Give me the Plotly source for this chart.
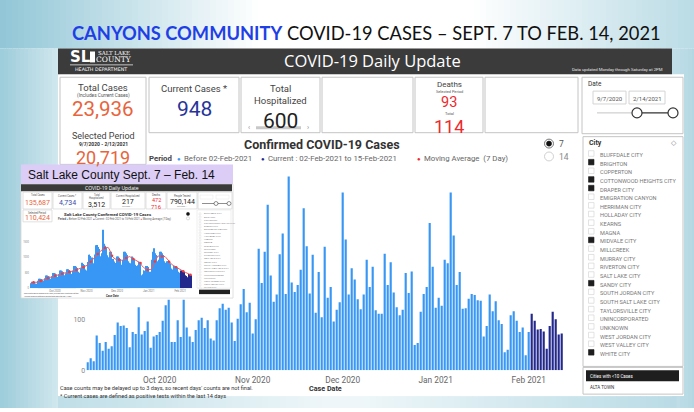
import plotly.graph_objects as go
import pandas as pd

# ---------------- data ----------------
first_case_date = "2020-09-07"
current_period_start = "2021-02-02"

canyons_daily_cases = [
    16, 24, 18, 69, 54, 39, 56, 43, 48, 70, 95, 88, 89, 84, 46, 76, 72, 125, 71, 78,
    97, 45, 67, 70, 76, 98, 129, 140, 56, 56, 99, 66, 140, 85, 67, 56, 80, 99, 104, 84,
    99, 63, 59, 99, 123, 132, 120, 124, 95, 58, 102,
    131, 161, 115, 134, 73, 101, 241, 173, 235, 328, 188, 136, 150, 230, 271, 151, 384,
    174, 155, 169, 199, 321, 246, 152, 229, 114, 195, 105, 245, 144, 165, 97, 120, 135, 352,
    259, 150, 202, 180, 141, 121, 150, 219, 165, 205, 119, 112, 112, 231, 169, 214, 154,
    125, 109, 120, 193, 153, 196, 50, 54, 116, 151, 165, 292, 205, 124, 144, 128, 219, 212,
    352, 267, 169,
    195, 122, 123, 142, 151, 149, 139, 138, 67, 88, 150, 117, 137, 99, 92, 36, 41, 109,
    117, 98, 76, 85, 30, 76,
    112, 98, 81, 82, 77, 43, 88, 116, 101, 71, 73,
]

slco_daily_cases = [
    160, 210, 205, 200, 190, 150, 145,
    240, 310, 310, 300, 285, 230, 215,
    320, 415, 415, 400, 380, 305, 290,
    385, 495, 495, 475, 450, 365, 345,
    450, 575, 575, 550, 525, 425, 400,
    485, 620, 620, 595, 565, 460, 430,
    565, 725, 725, 695, 660, 535, 505,
    650, 830, 830, 790, 755, 610, 575,
    855, 1090, 1095, 1045, 1000, 810, 760,
    1100, 1400, 1405, 1340, 1280, 1040, 975,
    1135, 1900, 1450, 1385, 1325, 1070, 1010,
    925, 1185, 1185, 700, 950, 870, 820,
    810, 1035, 1035, 990, 945, 765, 720,
    925, 1185, 1185, 1135, 1080, 875, 825,
    810, 1035, 1035, 990, 945, 765, 720,
    750, 860, 860, 820, 420, 450, 580,
    565, 725, 725, 690, 500, 535, 505,
    925, 1185, 1300, 1135, 1080, 875, 825,
    925, 1185, 1185, 1135, 1080, 875, 825,
    685, 875, 875, 835, 800, 645, 610,
    565, 725, 725, 695, 660, 535, 505,
    450, 575, 575, 550, 525, 425, 400,
    360, 460, 460, 440, 420,
]

month_tick_dates = ["2020-10-01", "2020-11-01", "2020-12-01", "2021-01-01", "2021-02-01"]
month_tick_labels = ["Oct 2020", "Nov 2020", "Dec 2020", "Jan 2021", "Feb 2021"]
canyons_y_ticks = [0, 100]
slco_y_ticks = [0, 500, 1000, 1500]

city_names = [
    "BLUFFDALE CITY", "BRIGHTON", "COPPERTON", "COTTONWOOD HEIGHTS CITY", "DRAPER CITY",
    "EMIGRATION CANYON", "HERRIMAN CITY", "HOLLADAY CITY", "KEARNS", "MAGNA", "MIDVALE CITY",
    "MILLCREEK", "MURRAY CITY", "RIVERTON CITY", "SALT LAKE CITY", "SANDY CITY",
    "SOUTH JORDAN CITY", "SOUTH SALT LAKE CITY", "TAYLORSVILLE CITY", "UNINCORPORATED",
    "UNKNOWN", "WEST JORDAN CITY", "WEST VALLEY CITY", "WHITE CITY",
]
cities_selected = ["BRIGHTON", "COTTONWOOD HEIGHTS CITY", "DRAPER CITY", "MIDVALE CITY",
                   "SANDY CITY", "WHITE CITY"]

kpi_total_cases = "23,936"
kpi_period_cases = "20,719"
kpi_current_cases = "948"
kpi_hospitalized = "600"
kpi_deaths_period = "93"
kpi_deaths_total = "114"
period_label = "9/7/2020 - 2/12/2021"
date_from_label = "9/7/2020"
date_to_label = "2/14/2021"

slco_total_cases = "135,687"
slco_current_cases = "4,734"
slco_hospitalized = "3,512"
slco_current_hosp = "217"
slco_deaths_period = "472"
slco_deaths_total = "716"
slco_people_tested = "790,144"
slco_period_cases = "110,424"

# ---------------- helpers ----------------
W, H = 694, 412
FONT = "Roboto"
LIGHT_BLUE = "#3896f5"
NAVY = "#23288c"
ORANGE = "#e8643c"
RED = "#f0282d"


def X(px):
    return px / W


def Y(py):
    return 1 - py / H


shapes = []
ann = []


def rect(x0, y0, x1, y1, fill="rgba(0,0,0,0)", line="rgba(0,0,0,0)", lw=0, layer="below"):
    shapes.append(dict(type="rect", xref="paper", yref="paper", x0=X(x0), x1=X(x1),
                       y0=Y(y1), y1=Y(y0), fillcolor=fill,
                       line=dict(color=line, width=lw), layer=layer))


def seg(x0, y0, x1, y1, color, lw=1, layer="below"):
    shapes.append(dict(type="line", xref="paper", yref="paper", x0=X(x0), x1=X(x1),
                       y0=Y(y0), y1=Y(y1), line=dict(color=color, width=lw), layer=layer))


def circ(cx, cy, r, fill, line, lw=1, layer="below"):
    shapes.append(dict(type="circle", xref="paper", yref="paper", x0=X(cx - r), x1=X(cx + r),
                       y0=Y(cy + r), y1=Y(cy - r), fillcolor=fill,
                       line=dict(color=line, width=lw), layer=layer))


def txt(x, y, s, size=8, color="#333", family=FONT, xa="center", ya="middle", weight=None):
    f = dict(size=size, color=color, family=family)
    if weight:
        f["weight"] = weight
    ann.append(dict(x=X(x), y=Y(y), xref="paper", yref="paper", text=s, showarrow=False,
                    xanchor=xa, yanchor=ya, font=f, borderpad=0))


def mix(t):
    base = (118, 184, 204)
    r, g, b = [round(255 - t * (255 - c)) for c in base]
    return f"rgb({r},{g},{b})"


# ---------------- slide background ----------------
step = 6
for xs in range(0, W, step):
    c = xs + step / 2
    t = 0.8 * max(0.0, 1 - c / 260) + 0.5 * max(0.0, (c - 470) / 224)
    rect(xs, 0, xs + step + 0.6, 49, fill=mix(t))
for xs in range(0, 58, 4):
    c = xs + 2
    t = 0.72 - 0.38 * c / 58
    rect(xs, 49, xs + 4.6, H, fill=mix(t))
for xs in range(672, W, 4):
    c = xs + 2
    t = 0.45 + 0.1 * (c - 672) / 22
    rect(xs, 49, xs + 4.6, H, fill=mix(t))
for xs in range(58, 672, step):
    c = xs + step / 2
    t = 0.42 * max(0.0, 1 - c / 330) + 0.38 * max(0.0, (c - 360) / 312) + 0.12
    rect(xs, 400, xs + step + 0.6, H, fill=mix(t))

# slide title
txt(366.5, 33.5, "<b><span style='color:#1f3fe6'>CANYONS COMMUNITY</span></b> COVID-19 CASES \u2013 SEPT. 7 TO FEB. 14, 2021",
    size=18.3, color="#111", family="Lato")

# ---------------- dashboard frame ----------------
rect(58, 75, 684, 400, fill="white")
rect(58, 49, 672, 75, fill="#3b3b3b")
txt(80, 57.5, "<b>SL</b>", size=15, color="white", family="DejaVu Sans")
rect(90, 52, 95, 63, fill="white")
txt(114, 53.5, "SALT LAKE", size=5.5, color="white", family="DejaVu Serif")
txt(114, 60, "COUNTY", size=7.5, color="white", family="DejaVu Serif")
seg(70, 65.5, 133, 65.5, "white", 0.7)
txt(101, 70, "HEALTH DEPARTMENT", size=4.8, color="white", family="DejaVu Sans")
txt(372, 61, "COVID-19 Daily Update", size=16.5, color="white", family="Open Sans")
txt(617, 70, "Data updated Monday through Saturday at 2PM", size=4.3, color="#e6e6e6")

# KPI cards
CARD = "#c4c4c4"
rect(60, 78, 146, 166, fill="white", line=CARD, lw=1)
rect(149, 78, 239, 134, fill="white", line=CARD, lw=1)
rect(241, 78, 320, 134, fill="white", line=CARD, lw=1)
rect(322, 78, 413, 134, fill="white", line=CARD, lw=1)
rect(415, 78, 483, 134, fill="white", line=CARD, lw=1)
rect(485, 78, 578, 134, fill="white", line=CARD, lw=1)

txt(103, 88.5, "Total Cases", size=9.5, color="#444")
txt(103, 96, "(Includes Current Cases)", size=4.8, color="#555")
txt(103, 110.5, kpi_total_cases, size=20.5, color=ORANGE)
txt(103, 137, "Selected Period", size=9, color="#444")
txt(103, 145, "<b>" + period_label + "</b>", size=5, color="#333")
txt(103, 159, kpi_period_cases, size=18, color=ORANGE)

txt(194, 89.5, "Current Cases *", size=9.5, color="#444")
txt(194, 110.5, kpi_current_cases, size=21, color="#26349a")

txt(280, 89.5, "Total", size=9.5, color="#444")
txt(280, 101, "Hospitalized", size=9.5, color="#444")
txt(280, 122, kpi_hospitalized, size=21, color="#222")
rect(256, 127.5, 301, 130.5, fill="#c8c8c8")
txt(249, 129, "\u2039", size=7, color="#888")
txt(308, 129, "\u203a", size=7, color="#888")

txt(449, 85.8, "Deaths", size=8, color="#444")
txt(449, 92.8, "Selected Period", size=3.9, color="#555")
txt(449, 104, kpi_deaths_period, size=14.5, color=RED)
txt(449, 114.5, "Total", size=4, color="#555")
txt(449, 127.5, kpi_deaths_total, size=18, color=RED)

# date slicer
rect(582, 78, 683, 135, fill="white", line=CARD, lw=1)
txt(587, 85, "Date", size=6.5, color="#333", xa="left")
rect(593, 92, 626, 105, fill="white", line="#d4d4d4", lw=1)
rect(629, 92, 665, 105, fill="white", line="#d4d4d4", lw=1)
txt(609.5, 99, date_from_label, size=6, color="#555")
txt(647, 99, date_to_label, size=6, color="#555")
seg(597, 114, 637, 114, "#c4c4c4", 1)
seg(637, 114, 673, 114, "#333", 1.4)
circ(637, 114, 5, "white", "#333", 1.2)
circ(673, 114, 5, "white", "#333", 1.2)

# city slicer
rect(583, 138, 683, 370, fill="white", line=CARD, lw=1)
txt(588, 144.5, "<b>City</b>", size=7, color="#333", xa="left")
txt(674, 144.5, "\u25c7", size=7, color="#888")
for k, name in enumerate(city_names):
    cy = 155 + 8.73 * k
    if name in cities_selected:
        rect(588.5, cy - 2.8, 594, cy + 2.8, fill="#1e1e1e", line="#1e1e1e", lw=0.6)
    else:
        rect(588.5, cy - 2.8, 594, cy + 2.8, fill="white", line="#d0d0d0", lw=0.6)
    txt(598.5, cy + 1.5, name, size=5.6, color="#777", xa="left")
rect(583, 371, 683, 398, fill="white", line=CARD, lw=1)
rect(586, 374, 679, 385, fill="#1e1e1e")
txt(589, 380.5, "Cities with &lt;10 Cases", size=4.5, color="white", xa="left")
txt(589, 391.5, "ALTA TOWN", size=4.5, color="#333", xa="left")

# radio buttons
circ(549, 145, 4.5, "white", "#555", 0.8)
circ(549, 145, 2.6, "#111", "#111", 0.5)
txt(558, 145.5, "7", size=8.5, color="#555", xa="left")
circ(549, 158, 4.5, "white", "#c4c4c4", 0.8)
txt(558, 158.5, "14", size=8.5, color="#888", xa="left")

# chart title & legend
txt(322, 145.5, "Confirmed COVID-19 Cases", size=12.5, color="#333", weight="bold")
txt(148, 160, "<b>Period</b>", size=7.8, color="#444", xa="left")
txt(176, 160, "\u25cf", size=6, color=LIGHT_BLUE, xa="left")
txt(182.5, 160, "Before 02-Feb-2021", size=7.8, color="#666", xa="left")
txt(260, 160, "\u25cf", size=6, color=NAVY, xa="left")
txt(266.5, 160, "Current : 02-Feb-2021 to 15-Feb-2021", size=7.8, color="#666", xa="left")
txt(416, 160, "\u25cf", size=6, color=RED, xa="left")
txt(422.5, 160, "Moving Average  (7 Day)", size=7.8, color="#666", xa="left")

txt(325, 392.5, "<b>Case Date</b>", size=7.2, color="#333")
txt(58.5, 391.5, "Case counts may be delayed up to 3 days, so recent days' counts are not final.",
    size=5.6, color="#333", xa="left")
txt(58.5, 400, "* Current cases are defined as positive tests within the last 14 days",
    size=5.6, color="#333", xa="left")

# ---------------- inset (Salt Lake County) ----------------
rect(21, 166, 233, 186, fill="#dccdf6")
txt(121, 176.5, "Salt Lake County Sept. 7 \u2013 Feb. 14", size=12, color="#111", family="Liberation Sans")
rect(21, 186, 233, 301, fill="white", line="#d8d8d8", lw=0.8)
rect(21, 186, 232, 193, fill="#3a3a3a")
txt(112, 189.8, "COVID-19 Daily Update", size=5, color="white", family="Open Sans")
mini = [(23, 52), (53, 82), (83, 110), (111, 145), (146, 166), (167, 197), (198, 232)]
for a, b in mini:
    rect(a, 194, b, 211, fill="white", line="#cfcfcf", lw=0.6)
rect(23, 212, 52, 224, fill="white", line="#cfcfcf", lw=0.6)
txt(37.5, 197, "Total Cases", size=2.6, color="#555")
txt(37.5, 205, slco_total_cases, size=7, color=ORANGE)
txt(67.5, 198, "Current Cases *", size=2.6, color="#555")
txt(67.5, 205, slco_current_cases, size=7, color="#3a4aa8")
txt(96.5, 197, "Total", size=2.6, color="#555")
txt(96.5, 200, "Hospitalized", size=2.6, color="#555")
txt(96.5, 207, slco_hospitalized, size=7, color="#222")
txt(128, 197.5, "Current Hospitalized", size=2.6, color="#555")
txt(128, 204, slco_current_hosp, size=7, color="#222")
txt(128, 208.5, "Includes ...", size=2.2, color="#777")
txt(156, 196.5, "Deaths", size=2.6, color="#555")
txt(156, 202, slco_deaths_period, size=5.5, color=RED)
txt(156, 208.5, slco_deaths_total, size=6, color=RED)
txt(182, 197.5, "People Tested", size=2.6, color="#555")
txt(182, 204, slco_people_tested, size=7, color="#222")
txt(182, 208.5, "Includes ...", size=2.2, color="#777")
rect(200, 197, 213, 201, fill="white", line="#ddd", lw=0.4)
rect(216, 197, 229, 201, fill="white", line="#ddd", lw=0.4)
seg(202, 205.5, 229, 205.5, "#444", 0.6)
circ(216, 205.5, 2, "white", "#444", 0.6)
circ(229, 205.5, 2, "white", "#444", 0.6)
txt(37.5, 215, "Selected Period", size=2.6, color="#555")
txt(37.5, 220.5, slco_period_cases, size=7, color=ORANGE)
txt(108, 216.5, "<b>Salt Lake County Confirmed COVID-19 Cases</b>", size=4.3, color="#333")
txt(57, 221.5,
    "<b>Period</b> <span style='color:#3896f5'>\u25cf</span> Before 02-Feb-2021 "
    "<span style='color:#23288c'>\u25cf</span> Current : 02-Feb-2021 to 15-Feb-2021 "
    "<span style='color:#f0282d'>\u25cf</span> Moving Average (7 Day)",
    size=2.7, color="#555", xa="left")
circ(188, 216, 1.6, "#111", "#333", 0.5)
circ(188, 220.5, 1.6, "white", "#bbb", 0.5)
rect(197, 212, 231, 291, fill="white", line="#dcdcdc", lw=0.5)
for k, name in enumerate(city_names):
    cy = 216 + 3.25 * k
    rect(199, cy - 1, 201, cy + 1, fill="white", line="#ccc", lw=0.3)
    txt(202.5, cy, name, size=2.3, color="#888", xa="left")
rect(199, 292.5, 230, 297, fill="#222")
txt(112, 298.5, "<b>Case Date</b>", size=2.8, color="#333")
txt(23, 296.5, "Case counts may be delayed up to 3 days, so recent days' counts are not final.",
    size=1.6, color="#444", xa="left")
txt(23, 299, "* Current cases are defined as positive tests within the last 14 days",
    size=1.6, color="#444", xa="left")

# ---------------- traces ----------------
dates = pd.date_range(first_case_date, periods=len(canyons_daily_cases), freq="D")
cut = pd.Timestamp(current_period_start)
x_before = [d for d in dates if d < cut]
x_current = [d for d in dates if d >= cut]
y_before = [v for d, v in zip(dates, canyons_daily_cases) if d < cut]
y_current = [v for d, v in zip(dates, canyons_daily_cases) if d >= cut]

slco_dates = pd.date_range(first_case_date, periods=len(slco_daily_cases), freq="D")
s_before = [v for d, v in zip(slco_dates, slco_daily_cases) if d < cut]
s_current = [v for d, v in zip(slco_dates, slco_daily_cases) if d >= cut]
slco_ma = pd.Series(slco_daily_cases).rolling(7, min_periods=1).mean()

fig = go.Figure()
fig.add_trace(go.Bar(x=x_before, y=y_before, marker=dict(color=LIGHT_BLUE, line=dict(width=0)),
                     xaxis="x", yaxis="y", hoverinfo="skip"))
fig.add_trace(go.Bar(x=x_current, y=y_current, marker=dict(color=NAVY, line=dict(width=0)),
                     xaxis="x", yaxis="y", hoverinfo="skip"))
fig.add_trace(go.Bar(x=[d for d in slco_dates if d < cut], y=s_before,
                     marker=dict(color=LIGHT_BLUE, line=dict(width=0)),
                     xaxis="x2", yaxis="y2", hoverinfo="skip"))
fig.add_trace(go.Bar(x=[d for d in slco_dates if d >= cut], y=s_current,
                     marker=dict(color=NAVY, line=dict(width=0)),
                     xaxis="x2", yaxis="y2", hoverinfo="skip"))
fig.add_trace(go.Scatter(x=list(slco_dates), y=list(slco_ma), mode="lines",
                         line=dict(color="#f05a5a", width=1), xaxis="x2", yaxis="y2",
                         hoverinfo="skip"))
fig.add_trace(go.Scatter(x=list(slco_dates[3::7]), y=list(slco_ma[3::7]), mode="markers",
                         marker=dict(color="#f03c3c", size=2.5), xaxis="x2", yaxis="y2",
                         hoverinfo="skip"))

x_range = [dates[0] - pd.Timedelta(hours=12), dates[-1] + pd.Timedelta(hours=12)]

fig.update_layout(
    width=W, height=H, autosize=False,
    margin=dict(l=0, r=0, t=0, b=0),
    paper_bgcolor="white", plot_bgcolor="rgba(0,0,0,0)",
    showlegend=False, barmode="overlay", bargap=0.28,
    xaxis=dict(domain=[X(86.2), X(563.2)], range=x_range, type="date", anchor="y",
               tickvals=month_tick_dates, ticktext=month_tick_labels,
               tickfont=dict(size=8.3, color="#666", family=FONT), ticklabelstandoff=3,
               showgrid=False, zeroline=False, showline=False, ticks=""),
    yaxis=dict(domain=[Y(374), Y(170)], range=[0, 400], anchor="x",
               tickvals=canyons_y_ticks, tickfont=dict(size=7, color="#888", family=FONT),
               showgrid=False, zeroline=False, showline=False, ticks=""),
    xaxis2=dict(domain=[X(30), X(192)], range=x_range, type="date", anchor="y2",
                tickvals=month_tick_dates, ticktext=month_tick_labels,
                tickfont=dict(size=2.8, color="#777", family=FONT),
                showgrid=False, zeroline=False, showline=False, ticks=""),
    yaxis2=dict(domain=[Y(291), Y(229)], range=[0, 2000], anchor="x2",
                tickvals=slco_y_ticks, tickfont=dict(size=2.6, color="#888", family=FONT),
                showgrid=False, zeroline=False, showline=False, ticks=""),
    shapes=shapes,
    annotations=ann,
)

fig.write_html("out.html", config={"displayModeBar": False},
               post_script="document.body.style.margin='0';document.body.style.overflow='hidden';")
